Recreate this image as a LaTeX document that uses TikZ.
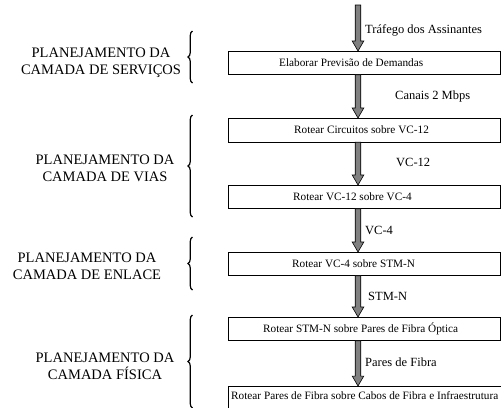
\documentclass[tikz,border=0pt]{standalone}
\usepackage{fontspec}
\setmainfont{Liberation Serif}
\usetikzlibrary{calc,decorations.pathreplacing}
\definecolor{arrgray}{RGB}{128,128,128}
\newcommand\blockarr[2]{%
  \draw[fill=arrgray, line width=0.6bp] let \p1=(#1), \p2=(#2) in
    (\x1-2.8,\y1) -- (\x1-2.8,\y2+10) -- (\x1-5.8,\y2+10) -- (\x1,\y2)
    -- (\x1+5.8,\y2+10) -- (\x1+2.8,\y2+10) -- (\x1+2.8,\y1) -- cycle;}
\begin{document}
\begin{tikzpicture}[x=1bp,y=-1bp,
  boxnode/.style={draw, line width=0.7bp, rectangle, anchor=north west, inner sep=0, minimum height=23bp, minimum width=272bp},
  boxtext/.style={anchor=west, inner sep=0, font=\fontsize{11.25bp}{13bp}\selectfont},
  flowlabel/.style={anchor=west, inner sep=0, font=\fontsize{12.5bp}{14bp}\selectfont},
  layerlabel/.style={align=center, inner sep=0, font=\fontsize{14.5bp}{17bp}\selectfont},
  layerbrace/.style={decorate, decoration={brace, amplitude=4.5bp}, line width=1.2bp}]
\useasboundingbox (0,0) rectangle (501,407);
\coordinate (ax) at (358,0);
\coordinate (top) at (358,5);
% boxes
\node[boxnode] (b1) at (228,51) {};
\node[boxnode, minimum height=23.5bp] (b2) at (228,118) {};
\node[boxnode] (b3) at (228,185) {};
\node[boxnode] (b4) at (228,252) {};
\node[boxnode] (b5) at (228,317) {};
\node[boxnode, minimum height=26bp, minimum width=290bp] (b6) at (228,386) {};
% box texts
\node[boxtext] (t1) at (279,62.5) {Elaborar Previsão de Demandas};
\node[boxtext] (t2) at (294,129.5) {Rotear Circuitos sobre VC-12};
\node[boxtext] (t3) at (293,196.5) {Rotear VC-12 sobre VC-4};
\node[boxtext] (t4) at (292,263.5) {Rotear VC-4 sobre STM-N};
\node[boxtext] (t5) at (263,328.5) {Rotear STM-N sobre Pares de Fibra Óptica};
\node[boxtext] (t6) at (231,396) {Rotear Pares de Fibra sobre Cabos de Fibra e Infraestrutura};
% arrows
\blockarr{top}{b1.north -| ax}
\blockarr{b1.south -| ax}{b2.north -| ax}
\blockarr{b2.south -| ax}{b3.north -| ax}
\blockarr{b3.south -| ax}{b4.north -| ax}
\blockarr{b4.south -| ax}{b5.north -| ax}
\blockarr{b5.south -| ax}{b6.north -| ax}
% flow labels
\node[flowlabel] (f1) at (365,30) {Tráfego dos Assinantes};
\node[flowlabel] (f2) at (395,96) {Canais 2 Mbps};
\node[flowlabel] (f3) at (396,162) {VC-12};
\node[flowlabel] (f4) at (365,230) {VC-4};
\node[flowlabel] (f5) at (368,296) {STM-N};
\node[flowlabel] (f6) at (365,362) {Pares de Fibra};
% braces
\draw[layerbrace] (192.5,83) -- (192.5,31);
\draw[layerbrace] (192.5,217) -- (192.5,115);
\draw[layerbrace] (192.5,290) -- (192.5,237);
\draw[layerbrace] (192.5,408) -- (192.5,315);
% layer labels
\node[layerlabel] (l1) at (101,63) {PLANEJAMENTO DA\\CAMADA DE SERVIÇOS};
\node[layerlabel] (l2) at (105,168) {PLANEJAMENTO DA\\CAMADA DE VIAS};
\node[layerlabel] (l3) at (87,266) {PLANEJAMENTO DA\\CAMADA DE ENLACE};
\node[layerlabel] (l4) at (105,366) {PLANEJAMENTO DA\\CAMADA FÍSICA};
\end{tikzpicture}
\end{document}
